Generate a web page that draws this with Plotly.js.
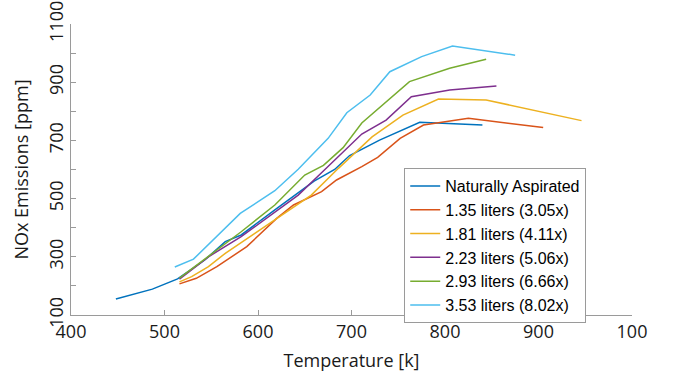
<!DOCTYPE html>
<html>
<head>
<meta charset="utf-8">
<script src="https://cdn.plot.ly/plotly-3.0.1.min.js"></script>
<style>html,body{margin:0;padding:0;background:#fff;}#chart{width:675px;height:375px;}</style>
</head>
<body>
<div id="chart"></div>
<script>
const seriesNames = ["Naturally Aspirated", "1.35 liters (3.05x)", "1.81 liters (4.11x)", "2.23 liters (5.06x)", "2.93 liters (6.66x)", "3.53 liters (8.02x)"];
const seriesColors = ["#0072BD", "#D95319", "#EDB120", "#7E2F8E", "#77AC30", "#4DBEEE"];

const naTemp = [448, 487, 514, 543, 565, 582, 618, 640, 660, 682, 698, 730, 773, 840];
const naNOx  = [155, 189, 224, 289, 352, 375, 461, 512, 560, 600, 648, 701, 762, 753];

const l135Temp = [516, 534, 556, 588, 620, 638, 668, 684, 711, 728, 752, 777, 825, 905];
const l135NOx  = [207, 226, 266, 335, 432, 478, 524, 564, 610, 642, 707, 753, 776, 744];

const l181Temp = [516, 529, 547, 565, 597, 618, 657, 686, 702, 722, 755, 793, 844, 946];
const l181NOx  = [214, 232, 266, 312, 381, 426, 512, 604, 653, 712, 787, 842, 839, 768];

const l223Temp = [516, 547, 582, 618, 643, 671, 693, 711, 737, 764, 805, 855];
const l223NOx  = [223, 300, 369, 455, 512, 598, 667, 722, 770, 850, 873, 887];

const l293Temp = [516, 582, 618, 650, 670, 691, 711, 739, 762, 805, 844];
const l293NOx  = [227, 386, 478, 581, 614, 675, 760, 839, 902, 948, 979];

const l353Temp = [511, 531, 581, 618, 643, 675, 695, 720, 741, 775, 808, 875];
const l353NOx  = [265, 292, 449, 527, 601, 707, 795, 856, 936, 988, 1024, 993];

const xTickVals = [400, 500, 600, 700, 800, 900, 1000];
const xTickText = ["400", "500", "600", "700", "800", "900", "100"];
const yTickVals = [100, 200, 300, 400, 500, 600, 700, 800, 900, 1000, 1100];
const yTickText = ["100", "", "300", "", "500", "", "700", "", "900", "", "1100"];

const xs = [naTemp, l135Temp, l181Temp, l223Temp, l293Temp, l353Temp];
const ys = [naNOx, l135NOx, l181NOx, l223NOx, l293NOx, l353NOx];

const traces = seriesNames.map((n, i) => ({
  x: xs[i], y: ys[i], name: n, type: "scatter", mode: "lines",
  line: {color: seriesColors[i], width: 1.5}
}));

const fam = "Open Sans, Noto Sans, sans-serif";
const axisFont = {family: fam, size: 18, color: "#1a1a1a"};

const layout = {
  width: 675, height: 375,
  margin: {l: 71, r: 43, t: 24, b: 60},
  paper_bgcolor: "#fff", plot_bgcolor: "#fff",
  showlegend: true,
  legend: {
    x: 0.594, y: 0.505, xanchor: "left", yanchor: "top",
    bgcolor: "#fff", bordercolor: "#9a9a9a", borderwidth: 1,
    font: {family: "Liberation Sans, Arial, sans-serif", size: 16, color: "#000"},
    tracegroupgap: 0
  },
  xaxis: {
    range: [400, 1000], tickmode: "array", tickvals: xTickVals, ticktext: xTickText,
    ticks: "inside", ticklen: 5, tickcolor: "#9a9a9a",
    showline: true, linecolor: "#9a9a9a", linewidth: 1,
    showgrid: false, zeroline: false, mirror: false,
    tickfont: axisFont,
    title: {text: "Temperature [k]", font: {family: fam, size: 18, color: "#1a1a1a"}, standoff: 12}
  },
  yaxis: {
    range: [100, 1100], tickmode: "array", tickvals: yTickVals, ticktext: yTickText,
    ticks: "inside", ticklen: 5, tickcolor: "#9a9a9a", tickangle: -90,
    showline: true, linecolor: "#9a9a9a", linewidth: 1,
    showgrid: false, zeroline: false, mirror: false,
    tickfont: axisFont,
    title: {text: "NOx Emissions [ppm]", font: {family: fam, size: 18, color: "#1a1a1a"}, standoff: 10}
  }
};

Plotly.newPlot("chart", traces, layout, {displayModeBar: false, staticPlot: true});
</script>
</body>
</html>
